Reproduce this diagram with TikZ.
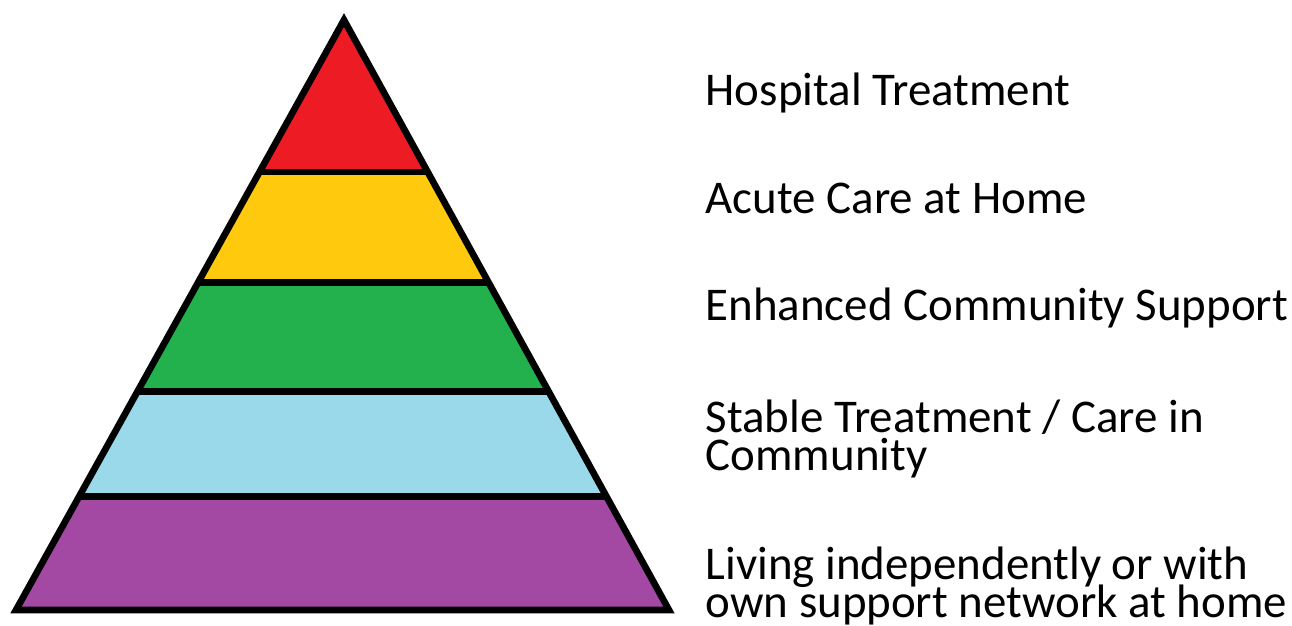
\documentclass[tikz,border=0pt]{standalone}
\usepackage{fontspec}
\setmainfont{Carlito}
\usetikzlibrary{calc}

% MS Paint style band colours
\definecolor{bandRed}{HTML}{ED1C24}
\definecolor{bandYellow}{HTML}{FFC90E}
\definecolor{bandGreen}{HTML}{22B14C}
\definecolor{bandBlue}{HTML}{99D9EA}
\definecolor{bandPurple}{HTML}{A349A4}

% dòng chữ sát nhau, không chèn thêm \lineskip
\setlength{\lineskiplimit}{-100pt}

\tikzset{
    level/.style={anchor=base west, inner sep=0pt, align=left,
        font=\fontsize{13.35}{10.8}\selectfont},
    edge/.style={line width=1.9pt, black}
}

\begin{document}
\begin{tikzpicture}[scale=1.0]
        \useasboundingbox (0,0) rectangle (12.92,-6.25);

        % Đỉnh và hai góc đáy của tháp
        \coordinate (apex) at (3.44,-0.20);
        \coordinate (bl) at (0.16,-6.10);
        \coordinate (br) at (6.69,-6.10);

        % Các dải màu, từ trên xuống
        \foreach \ta/\tb/\col in {0/0.2575/bandRed, 0.2575/0.4448/bandYellow,
                0.4448/0.6299/bandGreen, 0.6299/0.8081/bandBlue, 0.8081/1/bandPurple}
            \fill[\col] ($(apex)!\ta!(bl)$) -- ($(apex)!\tb!(bl)$)
                -- ($(apex)!\tb!(br)$) -- ($(apex)!\ta!(br)$) -- cycle;

        % Đường phân cách giữa các dải
        \foreach \t in {0.2575, 0.4448, 0.6299, 0.8081}
            \draw[edge] ($(apex)!\t!(bl)$) -- ($(apex)!\t!(br)$);

        % Viền tam giác
        \draw[edge] (apex) -- (bl) -- (br) -- cycle;

        % Nhãn các mức (nút nhiều dòng: mốc là dòng cuối)
        \node[level] (hospital) at (7.05,-1.05) {Hospital Treatment};
        \node[level] (acute) at (7.05,-2.13) {Acute Care at Home};
        \node[level] (enhanced) at (7.05,-3.20) {Enhanced Community Support};
        \node[level] (stable) at (7.05,-4.70) {Stable Treatment / Care in\\Community};
        \node[level] (living) at (7.05,-6.17) {Living independently or with\\own support network at home};
    \end{tikzpicture}
\end{document}
